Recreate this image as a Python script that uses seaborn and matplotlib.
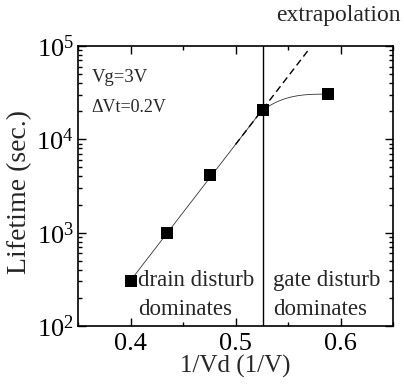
import numpy as np
import matplotlib
matplotlib.use("Agg")
import matplotlib.pyplot as plt
import seaborn as sns
from matplotlib.ticker import LogLocator, MultipleLocator, NullFormatter

inv_vd = [0.400, 0.435, 0.476, 0.526, 0.588]
lifetime = [300, 1000, 4100, 20500, 30500]
boundary_x = 0.526
extrap_end_x = 0.570

sns.set_theme(style="ticks")
plt.rcParams['font.family'] = ['Liberation Serif', 'DejaVu Serif']
plt.rcParams['mathtext.fontset'] = 'stix'

fig = plt.figure(figsize=(4.04, 3.87), dpi=100)
ax = fig.add_axes([78/404, 1-326/387, (393-78)/404, (326-46)/387])

# linear fit in log space of drain disturb points
xs = np.array(inv_vd[:4]); ls = np.log10(lifetime[:4])
p = np.polyfit(xs, ls, 1)
xfit = np.linspace(inv_vd[0], inv_vd[3], 50)
sns.lineplot(x=xfit, y=10**np.polyval(p, xfit), ax=ax, color='#333333', lw=0.6, sort=False)
xd = np.linspace(0.50, extrap_end_x, 30)
ax.plot(xd, 10**np.polyval(p, xd), color='black', lw=1.0, ls=(0, (5, 3)), clip_on=False)

# saturating curve to the last point
t = np.linspace(0, 1, 40)
xc = inv_vd[3] + (inv_vd[4] - inv_vd[3]) * t
lc = np.log10(lifetime[3]) + (np.log10(lifetime[4]) - np.log10(lifetime[3])) * (1 - (1 - t) ** 3)
ax.plot(xc, 10**lc, color='#333333', lw=0.6)

sns.scatterplot(x=inv_vd, y=lifetime, ax=ax, marker='s', s=75, color='black', linewidth=0, zorder=5)
ax.axvline(boundary_x, color='black', lw=1.0)

ax.set_yscale('log')
ax.set_xlim(0.35, 0.65)
ax.set_ylim(1e2, 1e5)
ax.xaxis.set_major_locator(MultipleLocator(0.1))
ax.xaxis.set_minor_locator(MultipleLocator(0.05))
ax.yaxis.set_major_locator(LogLocator(base=10))
ax.yaxis.set_minor_locator(LogLocator(base=10, subs=np.arange(2, 10)))
ax.yaxis.set_minor_formatter(NullFormatter())
ax.tick_params(which='both', direction='in', top=True, right=True, width=1, colors='black')
ax.tick_params(which='major', length=6, labelsize=19, pad=5)
ax.tick_params(axis='y', which='major', pad=3)
ax.tick_params(which='minor', length=3)
for s in ax.spines.values():
    s.set_linewidth(1.2)
    s.set_color('black')

ax.set_xlabel('1/Vd (1/V)', fontsize=18, labelpad=0)
ax.set_ylabel('Lifetime (sec.)', fontsize=20)
ax.yaxis.set_label_coords(-0.145, 0.48)

ax.text(0.363, 4.6e4, 'Vg=3V', fontsize=13.5, va='center')
ax.text(0.363, 2.2e4, '\u0394Vt=0.2V', fontsize=13, va='center')
ax.text(0.407, 3.05e2, 'drain disturb', fontsize=16.5, va='center')
ax.text(0.407, 1.52e2, 'dominates', fontsize=16.5, va='center')
ax.text(0.536, 3.05e2, 'gate disturb', fontsize=16.5, va='center')
ax.text(0.536, 1.52e2, 'dominates', fontsize=16.5, va='center')
fig.text(401/404, 1-16/387, 'extrapolation', fontsize=17, ha='right', va='center')

fig.savefig('out.png', dpi=100)
